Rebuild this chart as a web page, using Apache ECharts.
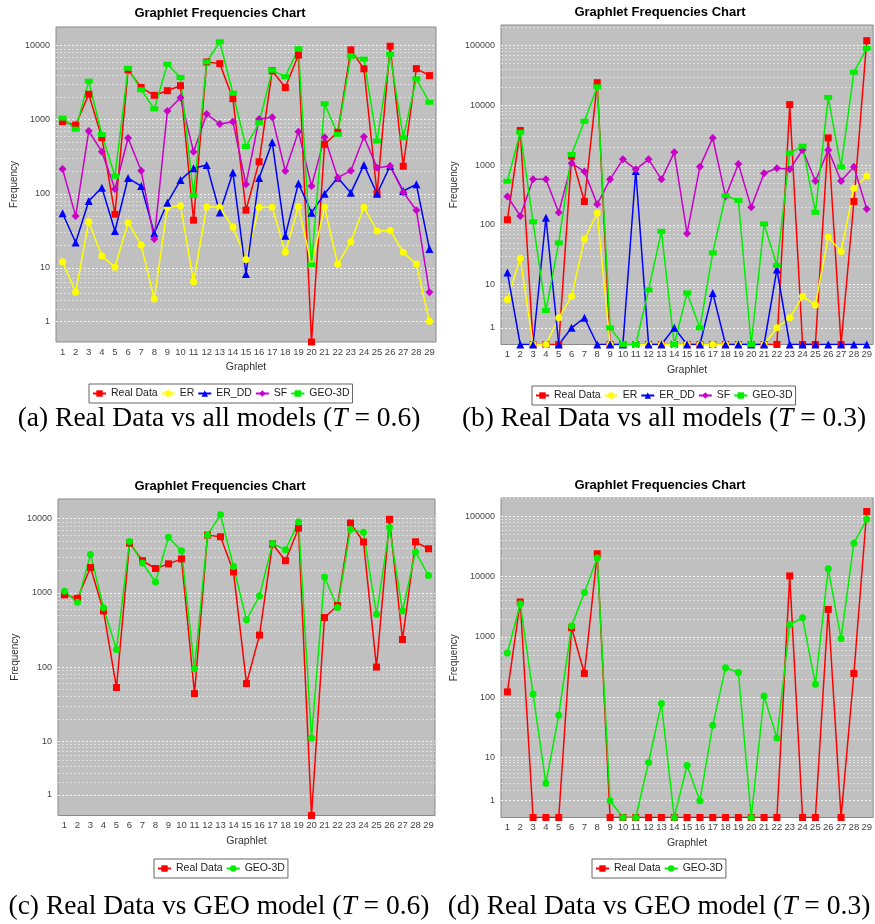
<!DOCTYPE html>
<html><head><meta charset="utf-8">
<script src="https://cdn.jsdelivr.net/npm/echarts@6/dist/echarts.min.js"></script>
<style>html,body{margin:0;padding:0;background:#fff}#c{width:875px;height:924px}</style>
</head><body><div id="c"></div>
<script>
// ---------- data ----------
const graphlets = ['1','2','3','4','5','6','7','8','9','10','11','12','13','14','15','16','17','18','19','20','21','22','23','24','25','26','27','28','29'];

// T = 0.6
const realT06 = [940, 845, 2200, 570, 53, 4690, 2710, 2130, 2460, 2870, 44, 6000, 5700, 1920, 60, 270, 4560, 2710, 7440, 0, 465, 675, 8740, 4850, 100, 9800, 235, 4880, 3930];
const erT06   = [12.1, 4.1, 42, 14.5, 10.2, 40.7, 20.4, 3.1, 65.7, 69, 6.1, 67, 66, 35.3, 13, 65.7, 65.7, 16.2, 67, 11, 65.7, 11.2, 22.6, 65.7, 31.5, 32, 16.2, 11.3, 1.0];
const erddT06 = [54.6, 22, 80, 121, 31.5, 163, 127, 29.3, 75.8, 153, 221, 245, 56, 193, 8.1, 163, 494, 27.2, 138, 55.6, 100, 165, 103, 245, 100, 237, 109, 134, 18];
const sfT06   = [216, 50, 703, 370, 116, 565, 205, 24.5, 1310, 1980, 368, 1190, 873, 940, 134, 1020, 1077, 203, 689, 127, 577, 165, 205, 589, 225, 237, 105, 60, 4.1];
const geoT06  = [1050, 745, 3300, 630, 172, 4930, 2530, 1400, 5600, 3700, 95, 6000, 11250, 2270, 433, 908, 4630, 3800, 9050, 11, 1640, 635, 7170, 6560, 515, 7600, 570, 3560, 1715];

// T = 0.3
const realT03 = [122, 3800, 0, 0, 0, 1420, 247, 24000, 0, 0, 0, 0, 0, 0, 0, 0, 0, 0, 0, 0, 0, 0, 10300, 0, 0, 2860, 0, 247, 121000];
const erT03   = [5.2, 27.7, 0, 0, 2, 6, 57.5, 158, 0, 0, 0, 0, 0, 0, 0, 0, 0, 0, 0, 0, 0, 1, 2, 6, 4, 63, 36, 410, 660];
const erddT03 = [16, 0, 0, 132, 0, 1, 2, 0, 0, 0, 800, 0, 0, 1, 0, 0, 7, 0, 0, 0, 0, 18, 0, 0, 0, 0, 0, 0, 0];
const sfT03   = [300, 141, 580, 580, 161, 1080, 780, 222, 580, 1254, 853, 1254, 580, 1640, 72, 944, 2850, 298, 1047, 197, 731, 887, 853, 1795, 544, 1795, 544, 944, 185];
const geoT03  = [540, 3550, 113, 3, 50, 1510, 5450, 20500, 1, 0, 0, 8, 78, 0, 7, 1, 34, 308, 256, 0, 104, 21, 1590, 2080, 163, 13600, 935, 36000, 90000];

// axis tick labels
const decadeLabels = ['1', '10', '100', '1000', '10000', '100000'];
const decadeValues = [1, 10, 100, 1000, 10000, 100000];
const minorMultipliers = [2, 3, 4, 5, 6, 7, 8, 9];

const seriesNamesAll = ['Real Data', 'ER', 'ER_DD', 'SF', 'GEO-3D'];
const seriesNamesGeo = ['Real Data', 'GEO-3D'];

// ---------- helpers ----------
// JFreeChart LogarithmicAxis "adjusted" log10 (values < 10 are shifted so 0 maps to 0)
function adj(v) { if (v < 10) v += (10 - v) / 10; return Math.log10(v); }

function tickList(max) {
  const t = [];
  decadeValues.forEach(d => {
    if (adj(d) <= max) t.push({v: adj(d), major: true});
    minorMultipliers.forEach(m => { if (adj(m * d) <= max) t.push({v: adj(m * d), major: false}); });
  });
  t.sort((a, b) => a.v - b.v);
  return t;
}
function labelFor(val) {
  for (let i = 0; i < decadeValues.length; i++) if (Math.abs(adj(decadeValues[i]) - val) < 1e-6) return decadeLabels[i];
  return '';
}

const COLORS = {'Real Data': '#ff0000', 'ER': '#ffff00', 'ER_DD': '#0000ff', 'SF': '#c800c8', 'GEO-3D': '#00ee00'};
const SYMBOLS_ALL = {'Real Data': ['rect', 7], 'ER': ['circle', 7], 'ER_DD': ['triangle', 8], 'SF': ['diamond', 8], 'GEO-3D': ['rect', [8, 5]]};
const SYMBOLS_GEO = {'Real Data': ['rect', 7], 'GEO-3D': ['circle', 7]};

const panels = [
  {id: 'a', grid: {left: 56, top: 27, width: 380, height: 315}, max: 4.25, names: seriesNamesAll, sym: SYMBOLS_ALL,
   data: {'Real Data': realT06, 'ER': erT06, 'ER_DD': erddT06, 'SF': sfT06, 'GEO-3D': geoT06},
   titleX: 220, titleY: 14, yNameGap: 37, legend: {left: 89, top: 384},
   caption: '(a) Real Data vs all models ({it|T} = 0.6)', capX: 219, capY: 421},
  {id: 'b', grid: {left: 501, top: 25, width: 373, height: 319.5}, max: 5.345, names: seriesNamesAll, sym: SYMBOLS_ALL,
   data: {'Real Data': realT03, 'ER': erT03, 'ER_DD': erddT03, 'SF': sfT03, 'GEO-3D': geoT03},
   titleX: 660, titleY: 13, yNameGap: 42, legend: {left: 532, top: 386},
   caption: '(b) Real Data vs all models ({it|T} = 0.3)', capX: 664, capY: 421},
  {id: 'c', grid: {left: 58, top: 499, width: 377, height: 316.5}, max: 4.265, names: seriesNamesGeo, sym: SYMBOLS_GEO,
   data: {'Real Data': realT06, 'GEO-3D': geoT06},
   titleX: 220, titleY: 487, yNameGap: 38, legend: {left: 154, top: 859},
   caption: '(c) Real Data vs GEO model ({it|T} = 0.6)', capX: 219, capY: 909},
  {id: 'd', grid: {left: 501, top: 498, width: 373, height: 319.5}, max: 5.307, names: seriesNamesGeo, sym: SYMBOLS_GEO,
   data: {'Real Data': realT03, 'GEO-3D': geoT03},
   titleX: 660, titleY: 486, yNameGap: 42, legend: {left: 592, top: 859},
   caption: '(d) Real Data vs GEO model ({it|T} = 0.3)', capX: 659, capY: 909}
];

const SANS = 'Liberation Sans, Arial, sans-serif';
const SERIF = 'Liberation Serif, Times New Roman, serif';
const CAP_SIZE = 27.5;

const option = {animation: false, backgroundColor: '#ffffff', title: [], grid: [], xAxis: [], yAxis: [], legend: [], series: []};

panels.forEach((p, i) => {
  option.title.push({text: 'Graphlet Frequencies Chart', left: p.titleX, top: p.titleY - 7, textAlign: 'center', padding: 0,
    textStyle: {fontFamily: SANS, fontSize: 13, fontWeight: 'bold', color: '#000'}});
  option.title.push({text: p.caption, left: p.capX, top: p.capY - 16, textAlign: 'center', padding: 0,
    textStyle: {fontFamily: SERIF, fontSize: CAP_SIZE, fontWeight: 'normal', color: '#000',
      rich: {it: {fontFamily: SERIF, fontSize: CAP_SIZE, fontStyle: 'italic', color: '#000'}}}});
  option.grid.push(Object.assign({show: true, backgroundColor: '#c0c0c0', borderColor: '#8a8a8a', borderWidth: 1}, p.grid));
  const ticks = tickList(p.max);
  option.xAxis.push({gridIndex: i, type: 'category', data: graphlets, boundaryGap: true,
    axisLine: {show: false}, axisTick: {show: false}, splitLine: {show: false},
    axisLabel: {interval: 0, fontSize: 9.5, fontFamily: SANS, color: '#444', margin: 5},
    name: 'Graphlet', nameLocation: 'middle', nameGap: 20, nameTextStyle: {fontSize: 10.5, fontFamily: SANS, color: '#333'}});
  option.yAxis.push({gridIndex: i, type: 'value', min: 0, max: p.max,
    axisLine: {show: false},
    axisTick: {show: false, customValues: ticks.map(t => t.v)},
    axisLabel: {customValues: decadeValues.map(adj).filter(v => v <= p.max), formatter: labelFor,
      fontSize: 9, fontFamily: SANS, color: '#444', margin: 6},
    splitLine: {show: true, lineStyle: {color: ticks.map(t => t.major ? '#f6f6f6' : '#dedede'), type: [2, 2], width: 1}},
    name: 'Frequency', nameLocation: 'middle', nameGap: p.yNameGap, nameTextStyle: {fontSize: 10, fontFamily: SANS, color: '#333'}});
  option.legend.push({left: p.legend.left, top: p.legend.top, orient: 'horizontal',
    data: p.names.map(n => n + '#' + p.id), formatter: n => n.split('#')[0],
    itemWidth: 13, itemHeight: 8, itemGap: 3, padding: [4, 3], borderColor: '#666', borderWidth: 1, backgroundColor: '#fff',
    textStyle: {fontSize: 10.5, fontFamily: SANS, color: '#222'}, selectedMode: false});
  p.names.forEach(n => {
    option.series.push({type: 'line', name: n + '#' + p.id, xAxisIndex: i, yAxisIndex: i,
      data: p.data[n].map(adj), symbol: p.sym[n][0], symbolSize: p.sym[n][1], showSymbol: true,
      lineStyle: {color: COLORS[n], width: 1.5}, itemStyle: {color: COLORS[n]},
      emphasis: {disabled: true}, silent: true, clip: true});
  });
});

const chart = echarts.init(document.getElementById('c'), null, {renderer: 'canvas'});
chart.setOption(option);
</script>
</body></html>
